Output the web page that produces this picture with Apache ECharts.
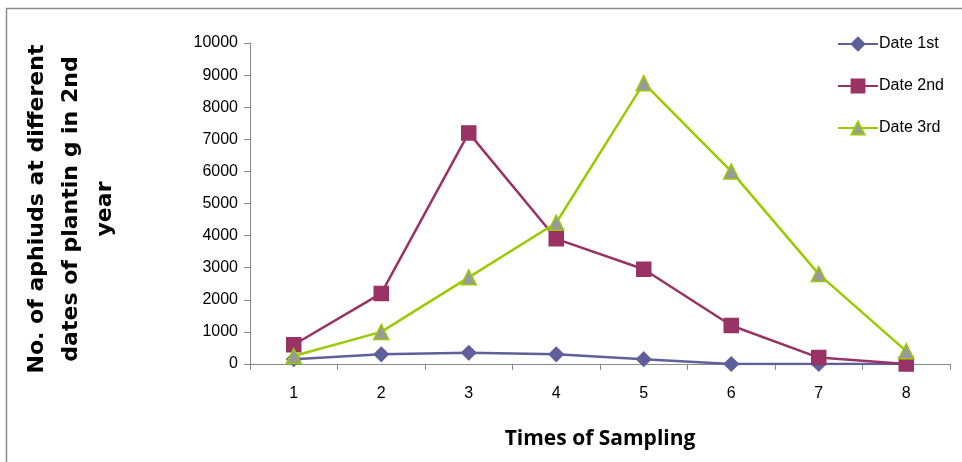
<!DOCTYPE html>
<html><head><meta charset="utf-8">
<script src="https://cdn.jsdelivr.net/npm/echarts@6/dist/echarts.min.js"></script>
<style>html,body{margin:0;padding:0;background:#fff}#c{width:962px;height:462px}</style>
</head><body><div id="c"></div>
<script>
const categories = ['1','2','3','4','5','6','7','8'];
const date1 = [150, 300, 350, 300, 150, 0, 0, 0];
const date2 = [600, 2200, 7200, 3900, 2950, 1200, 200, 0];
const date3 = [250, 1000, 2700, 4400, 8750, 6000, 2800, 400];
const seriesNames = ['Date 1st', 'Date 2nd', 'Date 3rd'];
const yTitleLines = ['No. of aphiuds at different', 'dates of plantin g in 2nd', 'year'];
const xTitle = 'Times of Sampling';

const chart = echarts.init(document.getElementById('c'), null, {renderer:'canvas'});
const FF = '"Liberation Sans", Arial, sans-serif';
const tickFont = {fontFamily:FF, fontSize:16, color:'#000'};
function mk(name, data, color, symbol, size, itemColor, borderColor){
  return {name, type:'line', data, symbol, symbolSize:size,
    lineStyle:{color, width:2.5},
    itemStyle:{color:itemColor, borderColor:borderColor, borderWidth:1.5},
    emphasis:{disabled:true}, animation:false};
}
chart.setOption({
  animation:false,
  backgroundColor:'#fff',
  graphic:[
    {type:'rect', shape:{x:6.5, y:8.5, width:1000, height:1000}, style:{fill:'none', stroke:'#8a8a8a', lineWidth:1.5}, silent:true},
    {type:'text', x:71, y:209, rotation:Math.PI/2, style:{text:yTitleLines.join('\n'), font:'bold 22px "DejaVu Sans", sans-serif', fill:'#000', align:'center', verticalAlign:'middle', lineHeight:34}},
    {type:'text', x:600, y:439, style:{text:xTitle, font:'bold 21px "Open Sans", sans-serif', fill:'#000', align:'center', verticalAlign:'middle'}}
  ],
  grid:{left:250, top:43, width:700, height:321, containLabel:false},
  legend:{
    orient:'vertical', left:837, top:36, padding:0, itemGap:26, itemWidth:40, itemHeight:16,
    textStyle:{fontFamily:FF, fontSize:16, color:'#000', padding:[0,0,0,-4]},
    data:seriesNames
  },
  xAxis:{type:'category', data:categories, boundaryGap:true,
    axisLine:{lineStyle:{color:'#888', width:1}},
    axisTick:{show:true, length:6, lineStyle:{color:'#888'}},
    axisLabel:Object.assign({margin:22}, tickFont),
    splitLine:{show:false}},
  yAxis:{type:'value', min:0, max:10000, interval:1000,
    axisLine:{show:true, lineStyle:{color:'#888', width:1}},
    axisTick:{show:true, length:6, lineStyle:{color:'#888'}},
    axisLabel:Object.assign({margin:12, formatter:v=>String(v)}, tickFont),
    splitLine:{show:false}},
  series:[
    mk(seriesNames[0], date1, '#5f5f9c', 'diamond', 14, '#5f5f9c', '#5f5f9c'),
    mk(seriesNames[1], date2, '#993366', 'rect', 14, '#993366', '#993366'),
    mk(seriesNames[2], date3, '#99cc00', 'triangle', 15, '#999999', '#99cc00')
  ]
});
</script></body></html>
